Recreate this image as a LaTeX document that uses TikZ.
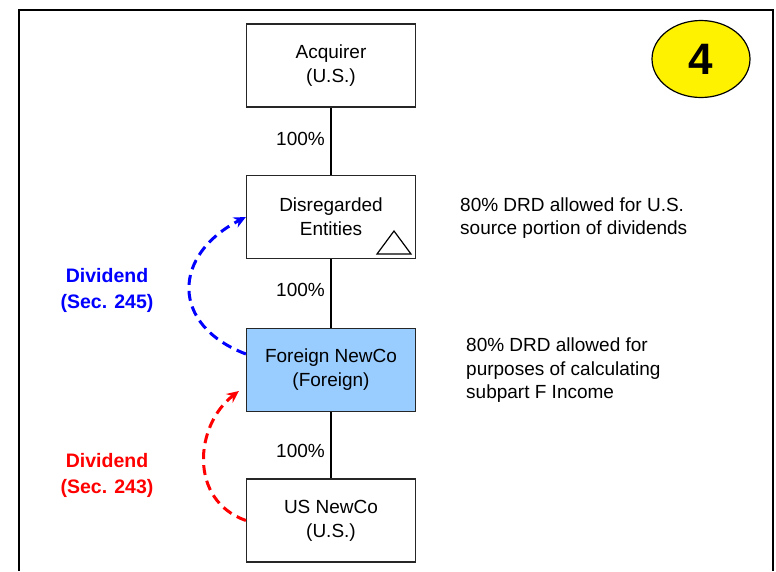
\documentclass[tikz,border=0pt]{standalone}
\usepackage{fontspec}
\setmainfont{Liberation Sans}
\usetikzlibrary{arrows.meta,shapes.geometric}
\definecolor{boxblue}{HTML}{99CCFF}
\definecolor{divblue}{HTML}{0000FF}
\definecolor{divred}{HTML}{FF0000}
\begin{document}
\begin{tikzpicture}[x=1pt,y=-1pt,
  entity/.style={draw=black!85,line width=1.2pt,minimum width=169pt,minimum height=83pt,inner sep=0pt,align=center,font=\fontsize{19}{24}\selectfont},
  pct/.style={anchor=east,font=\fontsize{19}{24}\selectfont,inner sep=0pt},
  note/.style={anchor=west,align=left,font=\fontsize{19}{23.5}\selectfont,inner sep=0pt},
  divlabel/.style={align=center,font=\bfseries\fontsize{19.5}{26}\selectfont,inner sep=0pt},
  divarrow/.style={line width=3pt,dash pattern=on 10pt off 6pt,-{Stealth[length=12pt,width=11pt]}},
  link/.style={line width=1.2pt,draw=black}]
\useasboundingbox (0,0) rectangle (776,571);
\draw[line width=2.3pt] (19,571) -- (19,10) -- (773,10) -- (773,571);
% entities
\node[entity] (acq) at (331,65.5) {Acquirer\\(U.S.)};
\node[entity] (de) at (331,217) {Disregarded\\Entities};
\node[entity,fill=boxblue] (fn) at (331,370) {Foreign NewCo\\(Foreign)};
\node[entity] (un) at (331,520.5) {US NewCo\\(U.S.)};
% ownership links
\draw[link] (acq) -- (de);
\draw[link] (de) -- (fn);
\draw[link] (fn) -- (un);
\node[pct] (p1) at (325,139) {100\%};
\node[pct] (p2) at (325,290) {100\%};
\node[pct] (p3) at (325,451) {100\%};
% triangle marker
\draw[line width=1.2pt] (377,254) -- (411,254) -- (394,231) -- cycle;
% number badge
\node[draw=black,line width=1.2pt,fill=yellow,ellipse,minimum width=98pt,minimum height=77pt,inner sep=0pt,font=\bfseries\fontsize{44}{44}\selectfont] (badge) at (701,59) {4};
% notes
\node[note] (n1) at (460,218) {80\% DRD allowed for U.S.\\source portion of dividends};
\node[note] (n2) at (466,370.5) {80\% DRD allowed for\\purposes of calculating\\subpart F Income};
% dividend labels
\node[divlabel,text=divblue] (d1) at (107,290.5) {Dividend\\(Sec. 245)};
\node[divlabel,text=divred] (d2) at (107,475.5) {Dividend\\(Sec. 243)};
% dividend arrows
\coordinate (bstart) at ([yshift=16pt]fn.west);
\coordinate (rend) at ([shift={(-7pt,-21pt)}]fn.west);
\draw[divarrow,draw=divblue] (bstart) .. controls (170,325) and (172,255) .. (de.west);
\draw[divarrow,draw=divred] (un.west) .. controls (188,500) and (195,425) .. (rend);
\end{tikzpicture}
\end{document}
